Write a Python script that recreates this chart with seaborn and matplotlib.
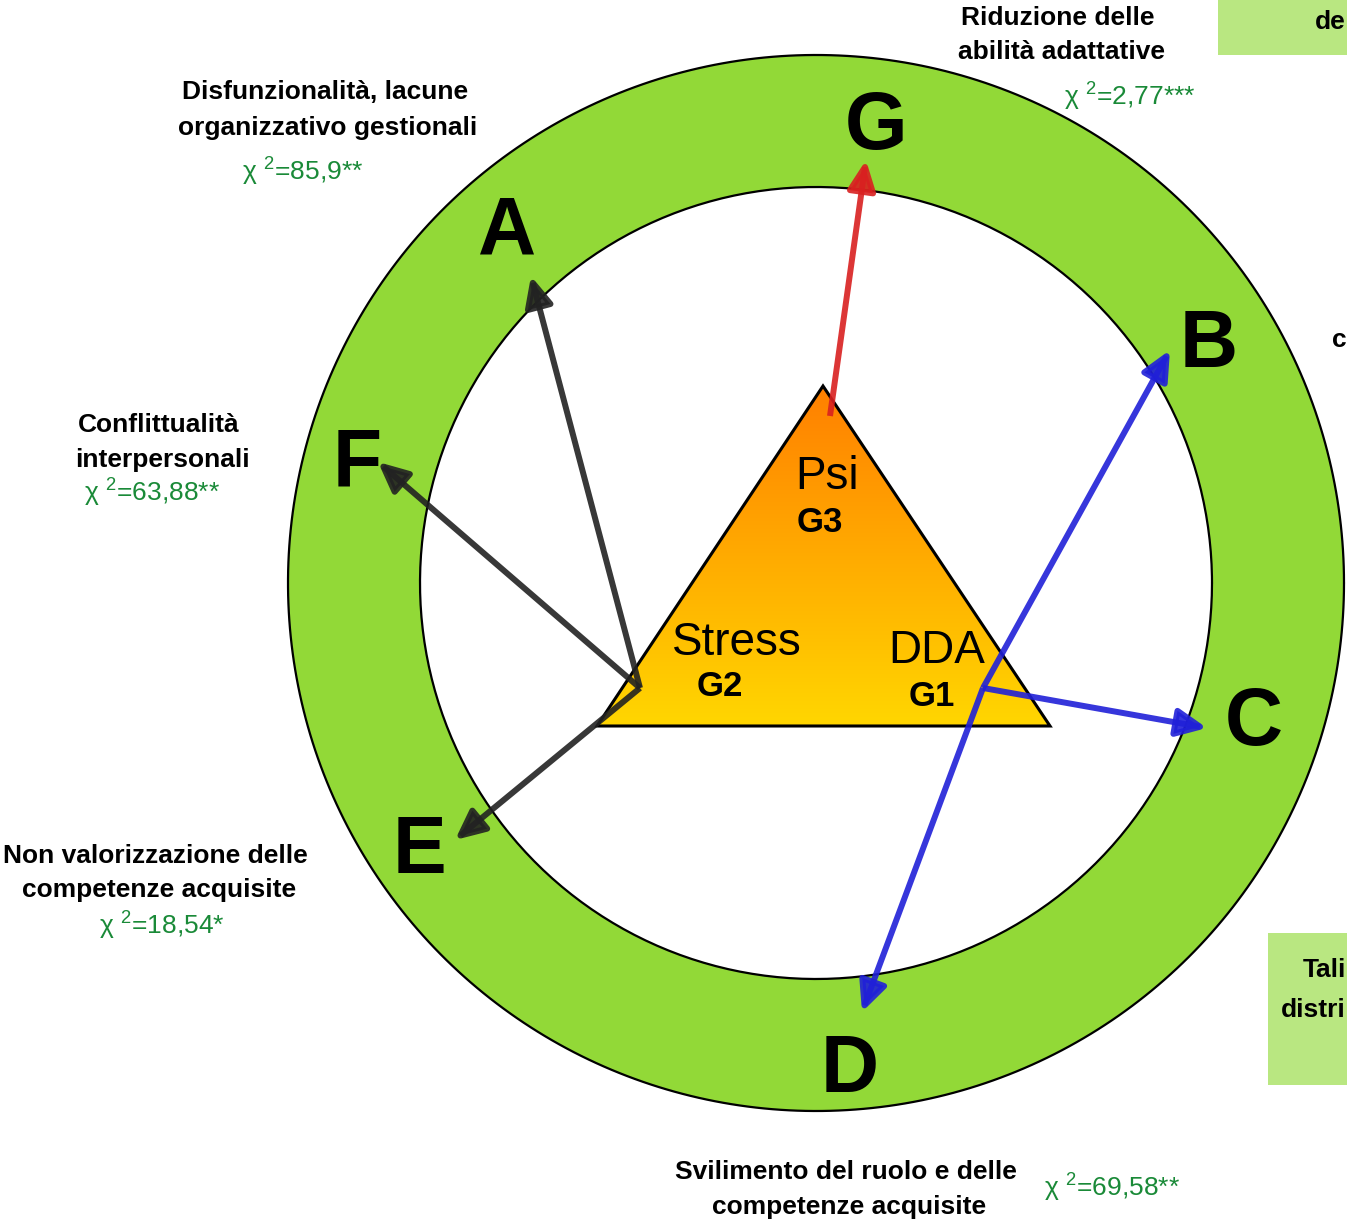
import numpy as np
import matplotlib
matplotlib.use("Agg")
import matplotlib.pyplot as plt
from matplotlib import font_manager
from matplotlib.patches import Wedge, Polygon, Rectangle
import seaborn as sns

# ---- data: fattori di disagio, etichette, chi quadro ----
letters = ["G", "A", "B", "C", "D", "E", "F"]
factor_lines = [
    ["Riduzione delle", "abilità adattative"],
    ["Disfunzionalità, lacune", "organizzativo gestionali"],
    None,
    None,
    ["Svilimento del ruolo e delle", "competenze acquisite"],
    ["Non valorizzazione delle", "competenze acquisite"],
    ["Conflittualità", "interpersonali"],
]
chi_values = ["2,77***", "85,9**", None, None, "69,58**", "18,54*", "63,88**"]
groups = ["Psi", "Stress", "DDA"]
group_codes = ["G3", "G2", "G1"]
# gruppo da cui parte ogni freccia
arrow_source = ["Psi", "Stress", "DDA", "DDA", "DDA", "Stress", "Stress"]
group_colors = {"Psi": "#d92020", "Stress": "#222222", "DDA": "#2020d8"}
# frammenti di testo dei riquadri tagliati sul bordo destro
side_texts = ["de", "Tali", "distri", "c"]

# ---- layout (pixel, y verso il basso) ----
W, H = 1347, 1223
cx, cy = 816, 583
R_out, R_in = 528, 396
tri = np.array([[823, 386], [597, 726], [1050, 726]])
letter_pos = {"G": (876, 128), "A": (507, 233), "B": (1209, 346), "C": (1254, 724),
              "D": (850, 1071), "E": (420, 852), "F": (357, 466)}
arrow_tip = {"G": (866, 160), "A": (531, 276), "B": (1170, 350), "C": (1207, 728),
             "D": (862, 1012), "E": (455, 840), "F": (378, 462)}
arrow_tail = {"Psi": (830, 416), "Stress": (640, 688), "DDA": (983, 688)}
group_pos = {"Psi": ((827, 477), (820, 522)), "Stress": ((737, 643), (720, 687)),
             "DDA": ((937, 651), (932, 697))}
label_pos = {"G": ((1058, 18), (1062, 52), (1130, 97)),
             "A": ((325, 92), (328, 128), (303, 172)),
             "D": ((846, 1172), (849, 1207), (1112, 1188)),
             "E": ((155, 856), (159, 890), (162, 926)),
             "F": ((159, 425), (162, 460), (152, 493))}
side_pos = [(1346, 22), (1346, 970), (1346, 1010), (1347, 340)]

sns.set_theme(style="white")
names = {f.name for f in font_manager.fontManager.ttflist}
narrow = "Liberation Sans Narrow" if "Liberation Sans Narrow" in names else "Liberation Sans"
plt.rcParams["font.family"] = [narrow, "DejaVu Sans"]
plt.rcParams["text.color"] = "black"
plt.rcParams["mathtext.fontset"] = "custom"
plt.rcParams["mathtext.rm"] = narrow
plt.rcParams["mathtext.default"] = "regular"

fig = plt.figure(figsize=(W / 100, H / 100), dpi=100)
ax = fig.add_axes([0, 0, 1, 1])

# anello verde
ax.add_patch(Wedge((cx, cy), R_out, 0, 360, width=R_out - R_in, facecolor="#92d937",
                   edgecolor="none", zorder=1))
th = np.linspace(0, 2 * np.pi, 400)
for r in (R_out, R_in):
    sns.lineplot(x=cx + r * np.cos(th), y=cy + r * np.sin(th), sort=False, estimator=None,
                 color="black", linewidth=1.6, ax=ax, zorder=2)

# triangolo con gradiente
grad = np.linspace(0, 1, 256)[:, None]
top = np.array([1.0, 0.50, 0.0])
bot = np.array([1.0, 0.84, 0.0])
img = top + (bot - top) * grad[..., None]
im = ax.imshow(img, extent=[597, 1050, 726, 386], aspect="auto", zorder=3)
im.set_clip_path(Polygon(tri, closed=True, transform=ax.transData))
ax.add_patch(Polygon(tri, closed=True, facecolor="none", edgecolor="black", linewidth=2.2,
                     joinstyle="miter", zorder=4))

for g, code in zip(groups, group_codes):
    p1, p2 = group_pos[g]
    ax.text(*p1, g, fontsize=33, ha="center", va="center", zorder=5)
    ax.text(*p2, code, fontsize=25, fontweight="bold", ha="center", va="center", zorder=5)

# frecce
for let, src in zip(letters, arrow_source):
    ax.annotate("", xy=arrow_tip[let], xytext=arrow_tail[src],
                arrowprops=dict(arrowstyle="-|>,head_length=0.9,head_width=0.42",
                                mutation_scale=20, color=group_colors[src], alpha=0.9,
                                linewidth=4.3, shrinkA=0, shrinkB=0, capstyle="butt"),
                zorder=6)

# lettere grandi
for let in letters:
    ax.text(*letter_pos[let], let, fontsize=58, fontweight="bold", family="Liberation Sans",
            ha="center", va="center", zorder=7)

# etichette e chi quadro
for let, lines, chi in zip(letters, factor_lines, chi_values):
    if lines is None:
        continue
    p1, p2, p3 = label_pos[let]
    ax.text(*p1, lines[0], fontsize=19, fontweight="bold", ha="center", va="center")
    ax.text(*p2, lines[1], fontsize=19, fontweight="bold", ha="center", va="center")
    ax.text(*p3, "χ $^{2}$=" + chi, fontsize=19, color="#1a8a38", ha="center", va="center")

# riquadri tagliati a destra
ax.add_patch(Rectangle((1218, 0), 140, 55, facecolor="#b9e781", edgecolor="none"))
ax.add_patch(Rectangle((1268, 933), 90, 152, facecolor="#b9e781", edgecolor="none"))
for txt, pos in zip(side_texts, side_pos):
    ax.text(*pos, txt, fontsize=19, fontweight="bold", ha="right", va="center")

ax.set_xlim(0, W)
ax.set_ylim(H, 0)
ax.axis("off")
fig.savefig("out.png", dpi=100)
